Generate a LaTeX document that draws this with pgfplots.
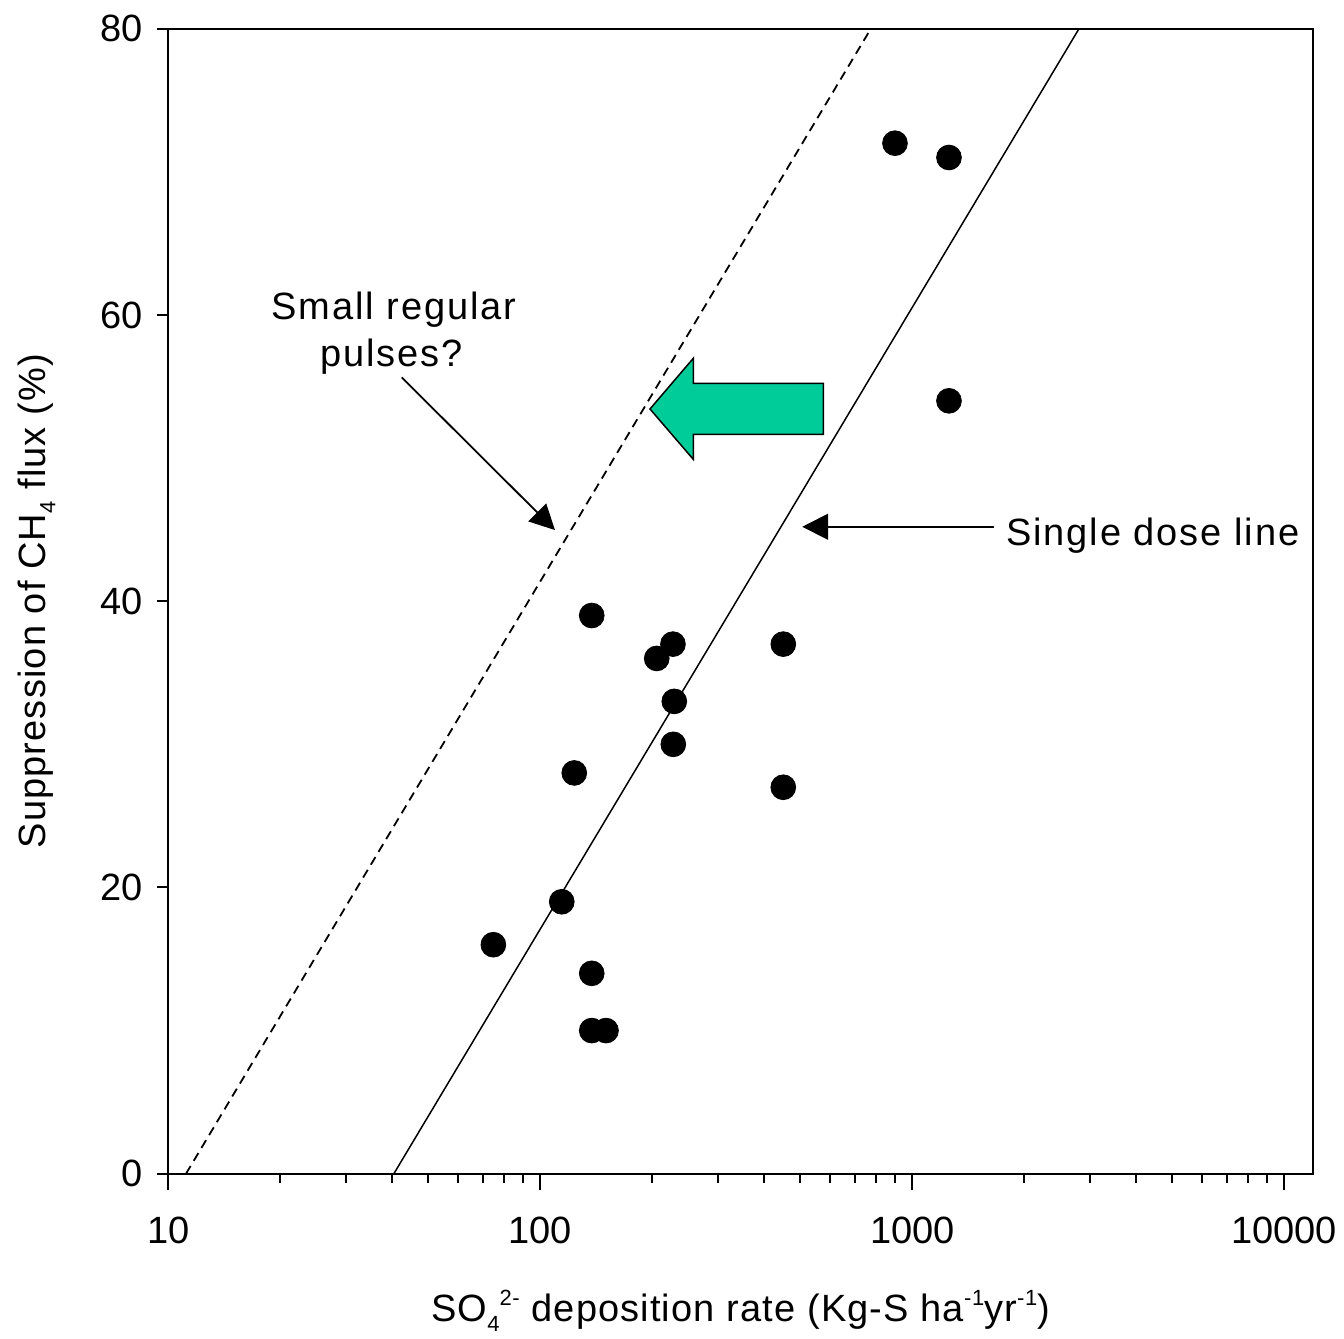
\documentclass[border=0pt]{standalone}
\usepackage{fontspec}
\setmainfont{Liberation Sans}
\newfontfamily\widefont[LetterSpace=5]{Liberation Sans}
\newfontfamily\labelfont[LetterSpace=3]{Liberation Sans}
\usepackage{pgfplots}
\pgfplotsset{compat=1.18}
\usetikzlibrary{arrows.meta}
\definecolor{arrowgreen}{RGB}{0,204,153}
\newcommand{\mainfont}{\fontsize{19}{22}\selectfont}
\newcommand{\annfont}{\widefont\fontsize{19}{22}\selectfont}
\newcommand{\labfont}{\labelfont\fontsize{19}{22}\selectfont}
\newcommand{\sups}[1]{\raisebox{8pt}{\fontsize{11}{11}\selectfont #1}}
\newcommand{\subs}[1]{\raisebox{-5pt}{\fontsize{11}{11}\selectfont #1}}
\pgfplotstableread{
x y
137.5 39
227.3 37
205.6 36
229.2 33
227.8 30
123.4 28
450 37
450 27
114.2 19
74.8 16
137.5 14
137.5 10
150.2 10
898.4 72
1255 71
1255 54
}\pointdata
\begin{document}
\begin{tikzpicture}
\begin{axis}[
  scale only axis, width=572.35pt, height=572.5pt,
  xmode=log, xmin=10, xmax=11946, ymin=0, ymax=80,
  clip=false,
  axis line style={line width=1pt},
  every tick/.style={black, line width=1pt},
  tick align=outside,
  xtick pos=bottom, ytick pos=left,
  major tick length=5.65pt,
  xtick style={/pgfplots/major tick length=8.35pt, /pgfplots/minor tick length=4.75pt},
  xtick={10,100,1000,10000}, xticklabels={10,100,1000,10000},
  minor xtick={20,30,40,50,60,70,80,90,200,300,400,500,600,700,800,900,2000,3000,4000,5000,6000,7000,8000,9000},
  ytick={0,20,40,60,80}, minor ytick={},
  /pgf/number format/assume math mode=true,
  tick label style={font=\mainfont},
  xticklabel style={anchor=north, yshift=-12.5pt},
  yticklabel style={anchor=east, xshift=-3.7pt},
  label style={font=\labfont},
  xlabel={SO\subs{4}\sups{2-} deposition rate (Kg-S ha\sups{-1}yr\sups{-1})},
  ylabel={Suppression of CH\subs{4} flux (\%)},
  xlabel style={at={(axis description cs:0.5,-0.1295)}, anchor=base},
  ylabel style={at={(axis description cs:-0.1073,0.5)}, anchor=base},
]
\addplot[black, line width=0.75pt] coordinates {(40.4,0) (2807,80)};
\addplot[black, line width=0.9pt, dash pattern=on 4.5pt off 3pt] coordinates {(11.16,0) (774,80)};
\addplot[only marks, mark=*, mark size=6.2pt, black] table[x=x,y=y] {\pointdata};
\draw[fill=arrowgreen, draw=black, line width=0.75pt] (axis cs:197.2,53.43) -- (axis cs:257.8,56.97) -- (axis cs:257.8,55.22) -- (axis cs:576.6,55.22) -- (axis cs:576.6,51.66) -- (axis cs:257.8,51.66) -- (axis cs:257.8,49.91) -- cycle;
\draw[-{Triangle[length=12.5pt,width=12.5pt]}, line width=0.9pt] (axis cs:42.4,55.64) -- (axis cs:109.5,44.97);
\draw[-{Triangle[length=13pt,width=13pt]}, line width=0.9pt] (axis cs:1654,45.2) -- (axis cs:506,45.2);
\node[anchor=base, inner sep=0pt, font=\annfont] at (axis cs:40.4,59.65) {Small regular};
\node[anchor=base, inner sep=0pt, font=\annfont] at (axis cs:39.9,56.38) {pulses?};
\node[anchor=base west, inner sep=0pt, font=\annfont] at (axis cs:1786,43.86) {Single dose line};
\end{axis}
\path ([shift={(-84.15pt,-82.15pt)}]current axis.south west) rectangle ([shift={(15.5pt,14.35pt)}]current axis.north east);
\end{tikzpicture}
\end{document}
